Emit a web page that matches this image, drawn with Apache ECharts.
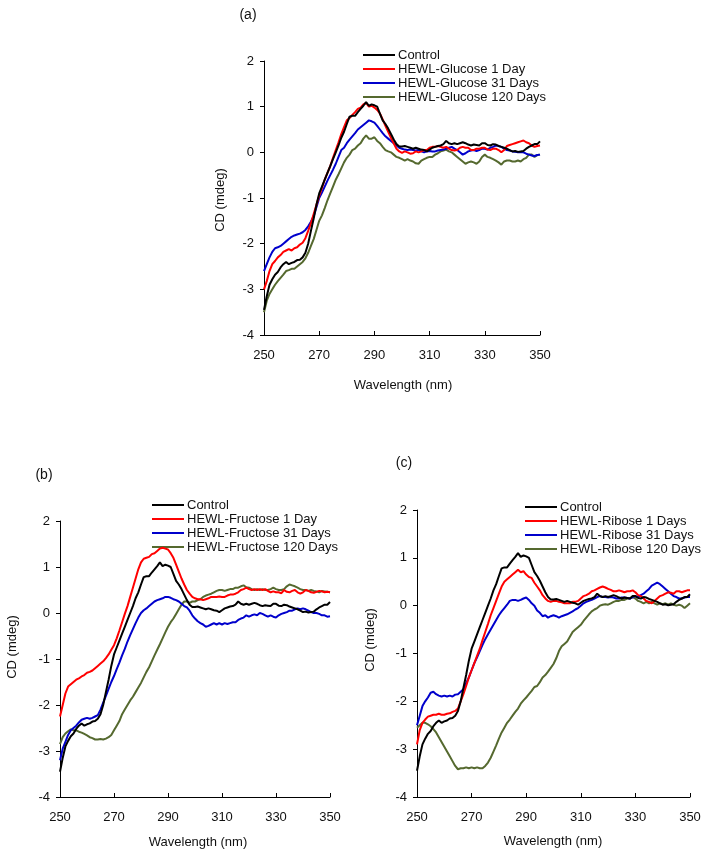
<!DOCTYPE html>
<html><head><meta charset="utf-8">
<script src="https://cdn.jsdelivr.net/npm/echarts@6/dist/echarts.min.js"></script>
<style>html,body{margin:0;padding:0;background:#fff}#c{width:711px;height:855px}</style>
</head><body><div id="c"></div>
<script>
// Wavelength sampling (nm)
const wavelength = [250,251,252,253,254,255,256,257,258,259,260,261,262,263,264,265,266,267,268,269,270,271,272,273,274,275,276,277,278,279,280,281,282,283,284,285,286,287,288,289,290,291,292,293,294,295,296,297,298,299,300,301,302,303,304,305,306,307,308,309,310,311,312,313,314,315,316,317,318,319,320,321,322,323,324,325,326,327,328,329,330,331,332,333,334,335,336,337,338,339,340,341,342,343,344,345,346,347,348,349,350];

const xTicks = [250, 270, 290, 310, 330, 350];
const yTicks = [-4, -3, -2, -1, 0, 1, 2];

// Control (same in all panels)
const control = [-3.45,-3.15,-2.9,-2.78,-2.68,-2.62,-2.52,-2.45,-2.4,-2.45,-2.42,-2.4,-2.36,-2.35,-2.3,-2.2,-2.0,-1.72,-1.45,-1.15,-0.9,-0.75,-0.6,-0.45,-0.3,-0.15,0.0,0.15,0.32,0.45,0.62,0.78,0.8,0.8,0.88,0.95,1.02,1.1,1.02,1.05,1.03,1.0,0.85,0.7,0.62,0.52,0.4,0.28,0.18,0.13,0.13,0.14,0.12,0.1,0.08,0.1,0.08,0.06,0.05,0.02,0.06,0.1,0.12,0.14,0.15,0.18,0.25,0.2,0.18,0.2,0.18,0.2,0.22,0.2,0.17,0.15,0.17,0.16,0.15,0.2,0.2,0.16,0.15,0.18,0.17,0.14,0.12,0.1,0.08,0.05,0.02,0.03,0.01,0.02,0.03,0.08,0.12,0.15,0.18,0.18,0.24];

// (a) Glucose
const glucose1 = [-3.0,-2.82,-2.6,-2.45,-2.38,-2.3,-2.25,-2.18,-2.15,-2.12,-2.15,-2.1,-2.08,-2.02,-1.98,-1.88,-1.72,-1.55,-1.35,-1.15,-0.95,-0.78,-0.6,-0.45,-0.3,-0.12,0.05,0.22,0.4,0.55,0.7,0.75,0.82,0.88,0.95,0.98,1.05,1.08,1.0,1.02,0.98,0.93,0.85,0.72,0.58,0.45,0.32,0.2,0.08,0.02,-0.01,0.02,0.0,-0.03,-0.02,0.02,0.0,0.02,0.05,0.05,0.1,0.12,0.12,0.14,0.12,0.1,0.12,0.08,0.05,0.04,0.05,0.1,0.12,0.1,0.1,0.05,0.05,0.08,0.08,0.1,0.1,0.06,0.05,0.08,0.08,0.05,0.0,0.05,0.14,0.16,0.18,0.2,0.22,0.24,0.26,0.22,0.2,0.15,0.12,0.14,0.15];
const glucose31 = [-2.6,-2.45,-2.3,-2.18,-2.1,-2.08,-2.05,-2.0,-1.95,-1.9,-1.85,-1.82,-1.8,-1.78,-1.75,-1.7,-1.62,-1.52,-1.4,-1.2,-1.0,-0.88,-0.75,-0.62,-0.5,-0.38,-0.25,-0.1,0.05,0.1,0.2,0.28,0.35,0.42,0.5,0.55,0.6,0.65,0.7,0.68,0.65,0.58,0.5,0.42,0.35,0.3,0.25,0.2,0.15,0.1,0.08,0.06,0.05,0.06,0.05,0.04,0.05,0.02,0.0,0.02,0.03,0.02,0.02,0.04,0.05,0.06,0.08,0.1,0.12,0.08,0.05,0.0,-0.05,-0.02,0.02,0.04,0.05,0.03,0.05,0.08,0.08,0.06,0.1,0.12,0.15,0.14,0.12,0.08,0.05,0.04,0.02,0.01,0.0,0.0,0.0,-0.03,-0.05,-0.07,-0.08,-0.06,-0.05];
const glucose120 = [-3.5,-3.25,-3.1,-3.0,-2.9,-2.82,-2.75,-2.68,-2.6,-2.58,-2.55,-2.55,-2.5,-2.45,-2.4,-2.32,-2.2,-2.05,-1.9,-1.7,-1.5,-1.38,-1.22,-1.05,-0.9,-0.75,-0.6,-0.48,-0.35,-0.22,-0.12,-0.05,0.05,0.08,0.15,0.2,0.3,0.37,0.3,0.3,0.33,0.25,0.2,0.12,0.05,0.02,0.0,-0.05,-0.1,-0.12,-0.15,-0.18,-0.15,-0.18,-0.2,-0.24,-0.25,-0.18,-0.15,-0.12,-0.1,-0.1,-0.05,-0.02,0.02,0.04,0.06,0.02,0.0,-0.05,-0.1,-0.15,-0.2,-0.25,-0.22,-0.2,-0.22,-0.25,-0.2,-0.1,-0.05,-0.1,-0.12,-0.15,-0.18,-0.22,-0.27,-0.2,-0.18,-0.18,-0.2,-0.2,-0.18,-0.2,-0.15,-0.12,-0.05,-0.05,-0.1,-0.06,-0.05];

// (b) Fructose
const fructose1 = [-2.25,-2.0,-1.75,-1.6,-1.55,-1.5,-1.45,-1.42,-1.38,-1.35,-1.3,-1.28,-1.25,-1.2,-1.15,-1.1,-1.05,-0.98,-0.9,-0.8,-0.7,-0.55,-0.38,-0.2,-0.02,0.15,0.35,0.55,0.75,0.95,1.1,1.18,1.2,1.22,1.28,1.3,1.35,1.4,1.42,1.4,1.38,1.3,1.2,1.05,0.9,0.75,0.62,0.5,0.42,0.35,0.32,0.3,0.3,0.28,0.3,0.32,0.35,0.35,0.35,0.36,0.35,0.35,0.38,0.4,0.4,0.42,0.45,0.5,0.52,0.55,0.52,0.5,0.52,0.5,0.52,0.5,0.52,0.48,0.45,0.47,0.45,0.45,0.43,0.5,0.46,0.45,0.48,0.5,0.45,0.42,0.45,0.5,0.48,0.45,0.44,0.46,0.48,0.47,0.45,0.46,0.45];
const fructose31 = [-3.2,-2.95,-2.8,-2.65,-2.55,-2.5,-2.45,-2.38,-2.32,-2.3,-2.28,-2.3,-2.28,-2.25,-2.22,-2.1,-1.95,-1.8,-1.65,-1.5,-1.37,-1.22,-1.08,-0.92,-0.78,-0.62,-0.48,-0.35,-0.22,-0.1,0.0,0.06,0.1,0.15,0.2,0.25,0.28,0.3,0.32,0.35,0.35,0.33,0.3,0.28,0.25,0.2,0.15,0.12,0.05,-0.05,-0.12,-0.18,-0.22,-0.25,-0.3,-0.28,-0.25,-0.22,-0.25,-0.22,-0.25,-0.22,-0.24,-0.22,-0.2,-0.2,-0.15,-0.12,-0.1,-0.05,-0.08,-0.05,-0.03,-0.05,0.0,-0.02,-0.05,-0.08,-0.05,-0.08,-0.1,-0.05,-0.02,0.0,0.02,0.05,0.05,0.08,0.1,0.08,0.1,0.08,0.05,0.02,0.0,0.0,-0.02,-0.05,-0.05,-0.08,-0.07];
const fructose120 = [-2.85,-2.7,-2.62,-2.57,-2.53,-2.55,-2.55,-2.58,-2.6,-2.63,-2.66,-2.7,-2.72,-2.75,-2.75,-2.74,-2.75,-2.73,-2.7,-2.65,-2.55,-2.45,-2.35,-2.2,-2.1,-2.0,-1.9,-1.82,-1.72,-1.62,-1.52,-1.4,-1.28,-1.18,-1.05,-0.92,-0.8,-0.68,-0.55,-0.42,-0.3,-0.2,-0.12,-0.02,0.08,0.18,0.25,0.25,0.22,0.25,0.25,0.28,0.3,0.35,0.38,0.4,0.42,0.45,0.48,0.5,0.5,0.48,0.5,0.52,0.52,0.55,0.55,0.58,0.6,0.56,0.55,0.52,0.5,0.52,0.5,0.52,0.5,0.5,0.52,0.55,0.52,0.5,0.5,0.52,0.58,0.62,0.6,0.58,0.55,0.52,0.5,0.5,0.48,0.5,0.48,0.47,0.45,0.48,0.47,0.46,0.45];

// (c) Ribose
const ribose1 = [-2.9,-2.6,-2.45,-2.38,-2.32,-2.3,-2.28,-2.28,-2.26,-2.28,-2.28,-2.26,-2.25,-2.22,-2.2,-2.15,-2.0,-1.85,-1.68,-1.5,-1.35,-1.2,-1.05,-0.9,-0.72,-0.55,-0.38,-0.2,-0.05,0.1,0.25,0.4,0.5,0.55,0.6,0.65,0.7,0.75,0.7,0.72,0.65,0.6,0.58,0.48,0.4,0.32,0.22,0.15,0.1,0.08,0.1,0.1,0.08,0.07,0.05,0.05,0.05,0.08,0.08,0.1,0.15,0.2,0.22,0.25,0.3,0.32,0.35,0.38,0.4,0.38,0.35,0.33,0.3,0.3,0.32,0.3,0.28,0.3,0.3,0.32,0.28,0.22,0.2,0.15,0.1,0.08,0.05,0.1,0.15,0.2,0.22,0.25,0.28,0.27,0.25,0.3,0.3,0.28,0.3,0.32,0.32];
const ribose31 = [-2.5,-2.3,-2.1,-2.0,-1.92,-1.82,-1.8,-1.85,-1.88,-1.9,-1.88,-1.9,-1.88,-1.9,-1.86,-1.85,-1.8,-1.75,-1.62,-1.5,-1.35,-1.2,-1.08,-0.95,-0.82,-0.7,-0.6,-0.5,-0.4,-0.3,-0.2,-0.12,-0.05,0.02,0.1,0.12,0.12,0.1,0.12,0.15,0.17,0.12,0.05,0.0,-0.1,-0.15,-0.22,-0.2,-0.25,-0.22,-0.2,-0.22,-0.25,-0.22,-0.2,-0.18,-0.15,-0.12,-0.08,-0.05,0.0,0.05,0.08,0.1,0.12,0.15,0.18,0.2,0.18,0.18,0.17,0.18,0.17,0.15,0.15,0.17,0.17,0.16,0.15,0.18,0.2,0.18,0.22,0.25,0.3,0.35,0.42,0.45,0.48,0.45,0.4,0.35,0.3,0.25,0.2,0.18,0.15,0.15,0.17,0.18,0.18];
const ribose120 = [-2.55,-2.5,-2.45,-2.45,-2.48,-2.52,-2.58,-2.65,-2.75,-2.85,-2.95,-3.05,-3.15,-3.25,-3.35,-3.42,-3.4,-3.4,-3.38,-3.4,-3.38,-3.4,-3.38,-3.4,-3.4,-3.35,-3.28,-3.18,-3.05,-2.92,-2.78,-2.65,-2.55,-2.45,-2.38,-2.3,-2.22,-2.15,-2.05,-1.98,-1.92,-1.85,-1.78,-1.7,-1.68,-1.6,-1.5,-1.45,-1.38,-1.3,-1.22,-1.1,-0.95,-0.85,-0.8,-0.75,-0.65,-0.55,-0.5,-0.45,-0.4,-0.32,-0.25,-0.18,-0.12,-0.08,-0.05,0.0,0.02,0.03,0.02,0.05,0.08,0.1,0.1,0.12,0.12,0.15,0.15,0.18,0.15,0.1,0.08,0.05,0.08,0.05,0.08,0.05,0.02,0.05,0.03,0.05,0.02,0.05,0.02,0.0,0.02,0.0,-0.05,0.0,0.05];

const seriesColors = ['#000000', '#ff0000', '#0000cc', '#55692f'];
const FONT = 'Liberation Sans, Arial, sans-serif';
// thin horizontal bar centred in a 32x14 box (corner specks fix the bounding box)
const LINE_ICON = 'path://M0,6 L32,6 L32,8 L0,8 Z M0,0 L0.01,0 L0.01,0.01 Z M31.99,13.99 L32,13.99 L32,14 L31.99,14 Z';

const panels = [
  { grid: {left: 264, top: 61, width: 276, height: 274},
    names: ['Control','HEWL-Glucose 1 Day','HEWL-Glucose 31 Days','HEWL-Glucose 120 Days'],
    values: [control, glucose1, glucose31, glucose120],
    legend: {left: 363, top: 48, rowH: 14},
    tag: {text: '(a)', x: 248, y: 15},
    yTitle: {x: 220, y: 200}, xTitle: {x: 403, y: 385} },
  { grid: {left: 60, top: 521, width: 270, height: 276},
    names: ['Control','HEWL-Fructose 1 Day','HEWL-Fructose 31 Days','HEWL-Fructose 120 Days'],
    values: [control, fructose1, fructose31, fructose120],
    legend: {left: 152, top: 498, rowH: 14},
    tag: {text: '(b)', x: 44, y: 475},
    yTitle: {x: 12, y: 647}, xTitle: {x: 198, y: 842} },
  { grid: {left: 417, top: 510, width: 273, height: 287},
    names: ['Control','HEWL-Ribose 1 Days','HEWL-Ribose 31 Days','HEWL-Ribose 120 Days'],
    values: [control, ribose1, ribose31, ribose120],
    legend: {left: 525, top: 500, rowH: 16},
    tag: {text: '(c)', x: 404, y: 463},
    yTitle: {x: 370, y: 640}, xTitle: {x: 553, y: 841} }
];

const grids = [], xAxes = [], yAxes = [], series = [], legends = [], graphics = [];
panels.forEach((p, i) => {
  grids.push(Object.assign({containLabel: false}, p.grid));
  xAxes.push({
    type: 'value', gridIndex: i, min: xTicks[0], max: xTicks[xTicks.length-1],
    interval: xTicks[1] - xTicks[0],
    axisLine: {show: true, onZero: false, lineStyle: {color: '#000', width: 1}},
    axisTick: {show: true, inside: true, length: 4, lineStyle: {color: '#000'}},
    axisLabel: {color: '#111', fontSize: 13, fontFamily: FONT, margin: 14},
    splitLine: {show: false}
  });
  yAxes.push({
    type: 'value', gridIndex: i, min: yTicks[0], max: yTicks[yTicks.length-1],
    interval: yTicks[1] - yTicks[0],
    axisLine: {show: true, onZero: false, lineStyle: {color: '#000', width: 1}},
    axisTick: {show: true, inside: false, length: 4, lineStyle: {color: '#000'}},
    axisLabel: {color: '#111', fontSize: 13, fontFamily: FONT, margin: 10},
    splitLine: {show: false}
  });
  p.names.forEach((nm, k) => {
    series.push({
      type: 'line', name: nm, xAxisIndex: i, yAxisIndex: i,
      data: wavelength.map((w, j) => [w, p.values[k][j]]),
      showSymbol: false, symbol: 'none', smooth: false,
      lineStyle: {color: seriesColors[k], width: 2},
      itemStyle: {color: seriesColors[k]},
      z: 10 - k,
      emphasis: {disabled: true}
    });
  });
  legends.push({
    orient: 'vertical', left: p.legend.left, top: p.legend.top,
    data: p.names.map(n => ({name: n, icon: LINE_ICON})),
    itemWidth: 32, itemHeight: p.legend.rowH, itemGap: 0,
    padding: 0, selectedMode: false,
    textStyle: {color: '#111', fontSize: 13, fontFamily: FONT, padding: [0,0,0,-2]}
  });
  graphics.push({type: 'text', x: p.tag.x, y: p.tag.y,
    style: {text: p.tag.text, fill: '#111', font: '14px ' + FONT, align: 'center', verticalAlign: 'middle'}});
  graphics.push({type: 'text', x: p.yTitle.x, y: p.yTitle.y, rotation: Math.PI/2,
    style: {text: 'CD (mdeg)', fill: '#111', font: '13px ' + FONT, align: 'center', verticalAlign: 'middle'}});
  graphics.push({type: 'text', x: p.xTitle.x, y: p.xTitle.y,
    style: {text: 'Wavelength (nm)', fill: '#111', font: '13px ' + FONT, align: 'center', verticalAlign: 'middle'}});
});

const chart = echarts.init(document.getElementById('c'), null, {renderer: 'canvas'});
chart.setOption({
  animation: false,
  backgroundColor: '#ffffff',
  grid: grids, xAxis: xAxes, yAxis: yAxes,
  legend: legends, series: series, graphic: graphics
});
</script></body></html>
